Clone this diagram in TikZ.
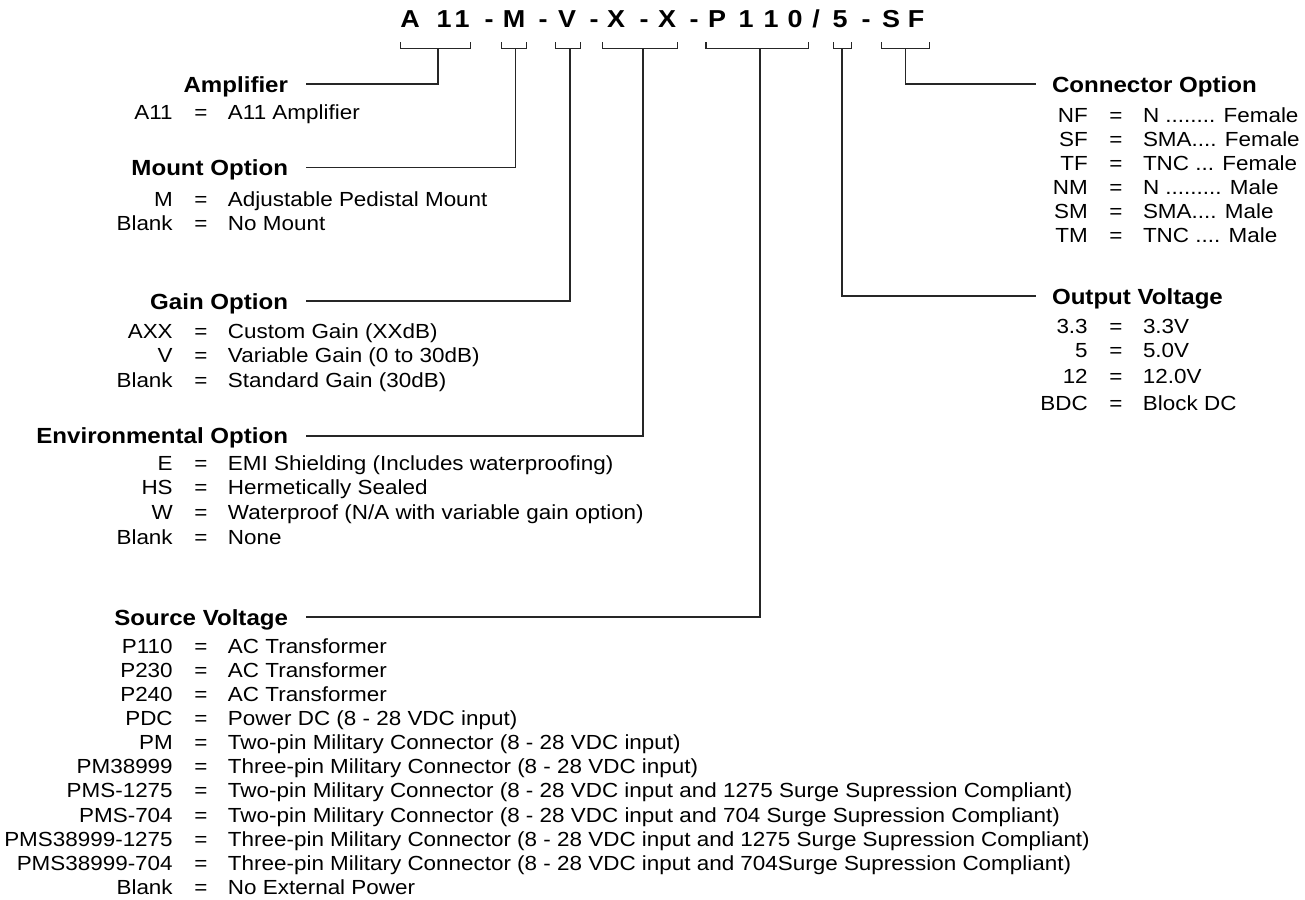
\documentclass[tikz,border=0pt]{standalone}
\usepackage{fontspec}
\setmainfont{Liberation Sans}[FakeStretch=1.1]
\newcommand{\lrow}[4]{\node[txt] (#1) at (#2) {\llap{#3\hspace{21.6pt}=\hspace{20.6pt}}#4};}
\begin{document}
\begin{tikzpicture}[x=1pt,y=-1pt,
  every node/.style={inner sep=0pt,outer sep=0pt},
  txt/.style={anchor=base west,font=\fontsize{20.4}{24}\selectfont},
  head/.style={anchor=base east,font=\fontsize{21.9}{26}\selectfont\bfseries},
  headr/.style={anchor=base west,font=\fontsize{21.9}{26}\selectfont\bfseries},
  code/.style={anchor=base,font=\fontsize{24.5}{28}\selectfont\bfseries},
  link/.style={line width=1.4pt,draw=black!85},
  brk/.style={line width=1.4pt,draw=black!85}]
\useasboundingbox (0,0) rectangle (1305,899);

% part number
\node[code] (c1) at (410,28) {A};
\node[code] (c2) at (444,28) {1};
\node[code] (c3) at (462,28) {1};
\node[code] (c4) at (489,28) {-};
\node[code] (c5) at (514,28) {M};
\node[code] (c6) at (543,28) {-};
\node[code] (c7) at (567,28) {V};
\node[code] (c8) at (594,28) {-};
\node[code] (c9) at (616,28) {X};
\node[code] (c10) at (644,28) {-};
\node[code] (c11) at (667,28) {X};
\node[code] (c12) at (694,28) {-};
\node[code] (c13) at (717,28) {P};
\node[code] (c14) at (746,28) {1};
\node[code] (c15) at (771,28) {1};
\node[code] (c16) at (795,28) {0};
\node[code] (c17) at (816,28) {/};
\node[code] (c18) at (840,28) {5};
\node[code] (c19) at (866,28) {-};
\node[code] (c20) at (891,28) {S};
\node[code] (c21) at (916,28) {F};

% brackets
\draw[brk] (400.7,42.5) |- (470.7,48.3) -- (470.7,42.5);
\draw[brk] (501.7,42.5) |- (526.7,48.3) -- (526.7,42.5);
\draw[brk] (555.7,42.5) |- (580.7,48.3) -- (580.7,42.5);
\draw[brk] (602.7,42.5) |- (677.7,48.3) -- (677.7,42.5);
\draw[brk] (706,42.5) |- (808.3,48.3) -- (808.3,42.5);
\draw[brk] (833.7,42.5) |- (851.3,48.3) -- (851.3,42.5);
\draw[brk] (881.7,42.5) |- (929.3,48.3) -- (929.3,42.5);
\coordinate (s1) at (438,48.3);
\coordinate (s2) at (515.7,48.3);
\coordinate (s3) at (570,48.3);
\coordinate (s4) at (643,48.3);
\coordinate (s5) at (760,48.3);
\coordinate (s6) at (842,48.3);
\coordinate (s7) at (905.7,48.3);

% left column
\node[head] (hAmp) at (288,92) {Amplifier};
\lrow{a1}{228,119}{A11}{A11 Amplifier}
\node[head] (hMount) at (288,175.5) {Mount Option};
\lrow{m1}{228,206}{M}{Adjustable Pedistal Mount}
\lrow{m2}{228,230}{Blank}{No Mount}
\node[head] (hGain) at (288,309) {Gain Option};
\lrow{g1}{228,338}{AXX}{Custom Gain (XXdB)}
\lrow{g2}{228,362}{V}{Variable Gain (0 to 30dB)}
\lrow{g3}{228,387}{Blank}{Standard Gain (30dB)}
\node[head] (hEnv) at (288,443) {Environmental Option};
\lrow{e1}{228,470}{E}{EMI Shielding (Includes waterproofing)}
\lrow{e2}{228,494}{HS}{Hermetically Sealed}
\lrow{e3}{228,519}{W}{Waterproof (N/A with variable gain option)}
\lrow{e4}{228,544}{Blank}{None}
\node[head] (hSrc) at (288,625) {Source Voltage};
\lrow{p1}{228,653}{P110}{AC Transformer}
\lrow{p2}{228,677}{P230}{AC Transformer}
\lrow{p3}{228,701}{P240}{AC Transformer}
\lrow{p4}{228,725}{PDC}{Power DC (8 - 28 VDC input)}
\lrow{p5}{228,749}{PM}{Two-pin Military Connector (8 - 28 VDC input)}
\lrow{p6}{228,773}{PM38999}{Three-pin Military Connector (8 - 28 VDC input)}
\lrow{p7}{228,797}{PMS-1275}{Two-pin Military Connector (8 - 28 VDC input and 1275 Surge Supression Compliant)}
\lrow{p8}{228,822}{PMS-704}{Two-pin Military Connector (8 - 28 VDC input and 704 Surge Supression Compliant)}
\lrow{p9}{228,846}{PMS38999-1275}{Three-pin Military Connector (8 - 28 VDC input and 1275 Surge Supression Compliant)}
\lrow{p10}{228,870}{PMS38999-704}{Three-pin Military Connector (8 - 28 VDC input and 704Surge Supression Compliant)}
\lrow{p11}{228,894}{Blank}{No External Power}

% right column
\node[headr] (hCon) at (1052,92) {Connector Option};
\lrow{k1}{1143,122}{NF}{N ........ Female}
\lrow{k2}{1143,146}{SF}{SMA.... Female}
\lrow{k3}{1143,170}{TF}{TNC ... Female}
\lrow{k4}{1143,194}{NM}{N ......... Male}
\lrow{k5}{1143,218}{SM}{SMA.... Male}
\lrow{k6}{1143,242}{TM}{TNC .... Male}
\node[headr] (hOut) at (1052,304) {Output Voltage};
\lrow{o1}{1143,333}{3.3}{3.3V}
\lrow{o2}{1143,357}{5}{5.0V}
\lrow{o3}{1143,383}{12}{12.0V}
\lrow{o4}{1143,410}{BDC}{Block DC}

% line ends beside headings
\coordinate (eAmp) at (306,84);
\coordinate (eMount) at (306,167.5);
\coordinate (eGain) at (306,301);
\coordinate (eEnv) at (306,436);
\coordinate (eSrc) at (306,617);
\coordinate (eOut) at (1036,296);
\coordinate (eCon) at (1036,84);

\draw[link] (s1) |- (eAmp);
\draw[link] (s2) |- (eMount);
\draw[link] (s3) |- (eGain);
\draw[link] (s4) |- (eEnv);
\draw[link] (s5) |- (eSrc);
\draw[link] (s6) |- (eOut);
\draw[link] (s7) |- (eCon);
\end{tikzpicture}
\end{document}
